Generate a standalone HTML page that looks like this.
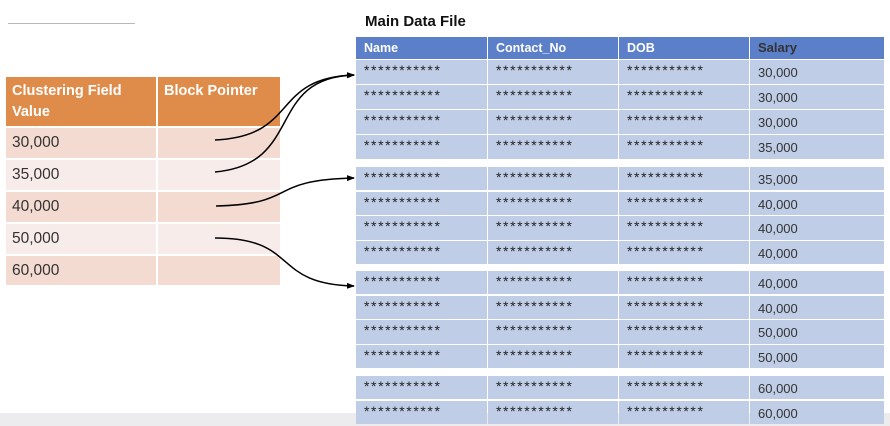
<!DOCTYPE html>
<html><head><meta charset="utf-8"><style>
body{margin:0;width:890px;height:426px;background:#fff;position:relative;overflow:hidden;font-family:"Liberation Sans",Calibri,sans-serif}
.a{position:absolute}
.row{position:absolute;left:356px;width:528px;display:flex;gap:1px}
.row div{background:#c0cde6;height:100%;position:relative;font-size:14px;color:#222;box-sizing:border-box;padding-left:8px;padding-top:3px;letter-spacing:1.6px;line-height:14px}
.row div:nth-child(1){width:131px}.row div:nth-child(2){width:130px}.row div:nth-child(3){width:130px}.row div:nth-child(4){width:134px;font-size:13px;letter-spacing:0;color:#333}
.hd div{background:#5b7fc8;color:#fff;font-weight:bold;font-size:12.5px;letter-spacing:0;padding-top:4px}
.lc{position:absolute;left:6px;width:274px;display:flex;gap:2px}
.lc div{height:100%;box-sizing:border-box;padding:6px 0 0 6px;font-size:15.5px;color:#333}
.lc div:first-child{width:150px}.lc div:last-child{width:122px}
</style></head><body>
<div class="a" style="left:8px;top:23px;width:127px;height:1px;background:#b8b8b8"></div>
<div class="a" style="left:0;top:413px;width:890px;height:13px;background:#ececef"></div>
<div class="a" style="left:365px;top:13px;font-size:15px;font-weight:bold;color:#111">Main Data File</div>

<div class="row hd" style="top:37px;height:22px"><div>Name</div><div>Contact_No</div><div>DOB</div><div>Salary</div></div>

<div class="row" style="top:60px;height:24px"><div>***********</div><div>***********</div><div>***********</div><div style="padding-top:6px">30,000</div></div>
<div class="row" style="top:85px;height:24px"><div>***********</div><div>***********</div><div>***********</div><div style="padding-top:6px">30,000</div></div>
<div class="row" style="top:110px;height:24px"><div>***********</div><div>***********</div><div>***********</div><div style="padding-top:6px">30,000</div></div>
<div class="row" style="top:135px;height:24px"><div>***********</div><div>***********</div><div>***********</div><div style="padding-top:6px">35,000</div></div>

<div class="row" style="top:167px;height:23px"><div>***********</div><div>***********</div><div>***********</div><div style="padding-top:6px">35,000</div></div>
<div class="row" style="top:192px;height:23px"><div>***********</div><div>***********</div><div>***********</div><div style="padding-top:6px">40,000</div></div>
<div class="row" style="top:216px;height:24px"><div>***********</div><div>***********</div><div>***********</div><div style="padding-top:6px">40,000</div></div>
<div class="row" style="top:241px;height:23px"><div>***********</div><div>***********</div><div>***********</div><div style="padding-top:6px">40,000</div></div>

<div class="row" style="top:271px;height:23px"><div>***********</div><div>***********</div><div>***********</div><div style="padding-top:6px">40,000</div></div>
<div class="row" style="top:296px;height:23px"><div>***********</div><div>***********</div><div>***********</div><div style="padding-top:6px">40,000</div></div>
<div class="row" style="top:320px;height:24px"><div>***********</div><div>***********</div><div>***********</div><div style="padding-top:6px">50,000</div></div>
<div class="row" style="top:345px;height:23px"><div>***********</div><div>***********</div><div>***********</div><div style="padding-top:6px">50,000</div></div>

<div class="row" style="top:376px;height:23px"><div>***********</div><div>***********</div><div>***********</div><div style="padding-top:6px">60,000</div></div>
<div class="row" style="top:401px;height:23px"><div>***********</div><div>***********</div><div>***********</div><div style="padding-top:6px">60,000</div></div>

<div class="lc" style="top:77px;height:49px"><div style="background:#df8c4b;color:#fff;font-weight:bold;font-size:14.5px;line-height:21px;padding-top:4px">Clustering Field Value</div><div style="background:#df8c4b;color:#fff;font-weight:bold;font-size:14.5px;line-height:21px;padding-top:4px">Block Pointer</div></div>
<div class="lc" style="top:128px;height:30px"><div style="background:#f3dbd2">30,000</div><div style="background:#f3dbd2"></div></div>
<div class="lc" style="top:160px;height:30px"><div style="background:#f8eceb">35,000</div><div style="background:#f8eceb"></div></div>
<div class="lc" style="top:192px;height:30px"><div style="background:#f3dbd2">40,000</div><div style="background:#f3dbd2"></div></div>
<div class="lc" style="top:224px;height:30px"><div style="background:#f8eceb">50,000</div><div style="background:#f8eceb"></div></div>
<div class="lc" style="top:256px;height:29px"><div style="background:#f3dbd2">60,000</div><div style="background:#f3dbd2"></div></div>

<svg class="a" style="left:0;top:0" width="890" height="426">
<defs><marker id="m" markerWidth="8" markerHeight="8" refX="7" refY="4" orient="auto" markerUnits="userSpaceOnUse"><path d="M0,1 L8,4 L0,7z" fill="#000"/></marker></defs>
<g fill="none" stroke="#000" stroke-width="1.5" marker-end="url(#m)">
<path d="M215,140 C300,136 270,78 354,75"/>
<path d="M215,172 C305,164 265,78 354,75"/>
<path d="M216,206 C300,204 265,180 354,178"/>
<path d="M215,238 C300,238 270,284 354,286"/>
</g></svg>
</body></html>
